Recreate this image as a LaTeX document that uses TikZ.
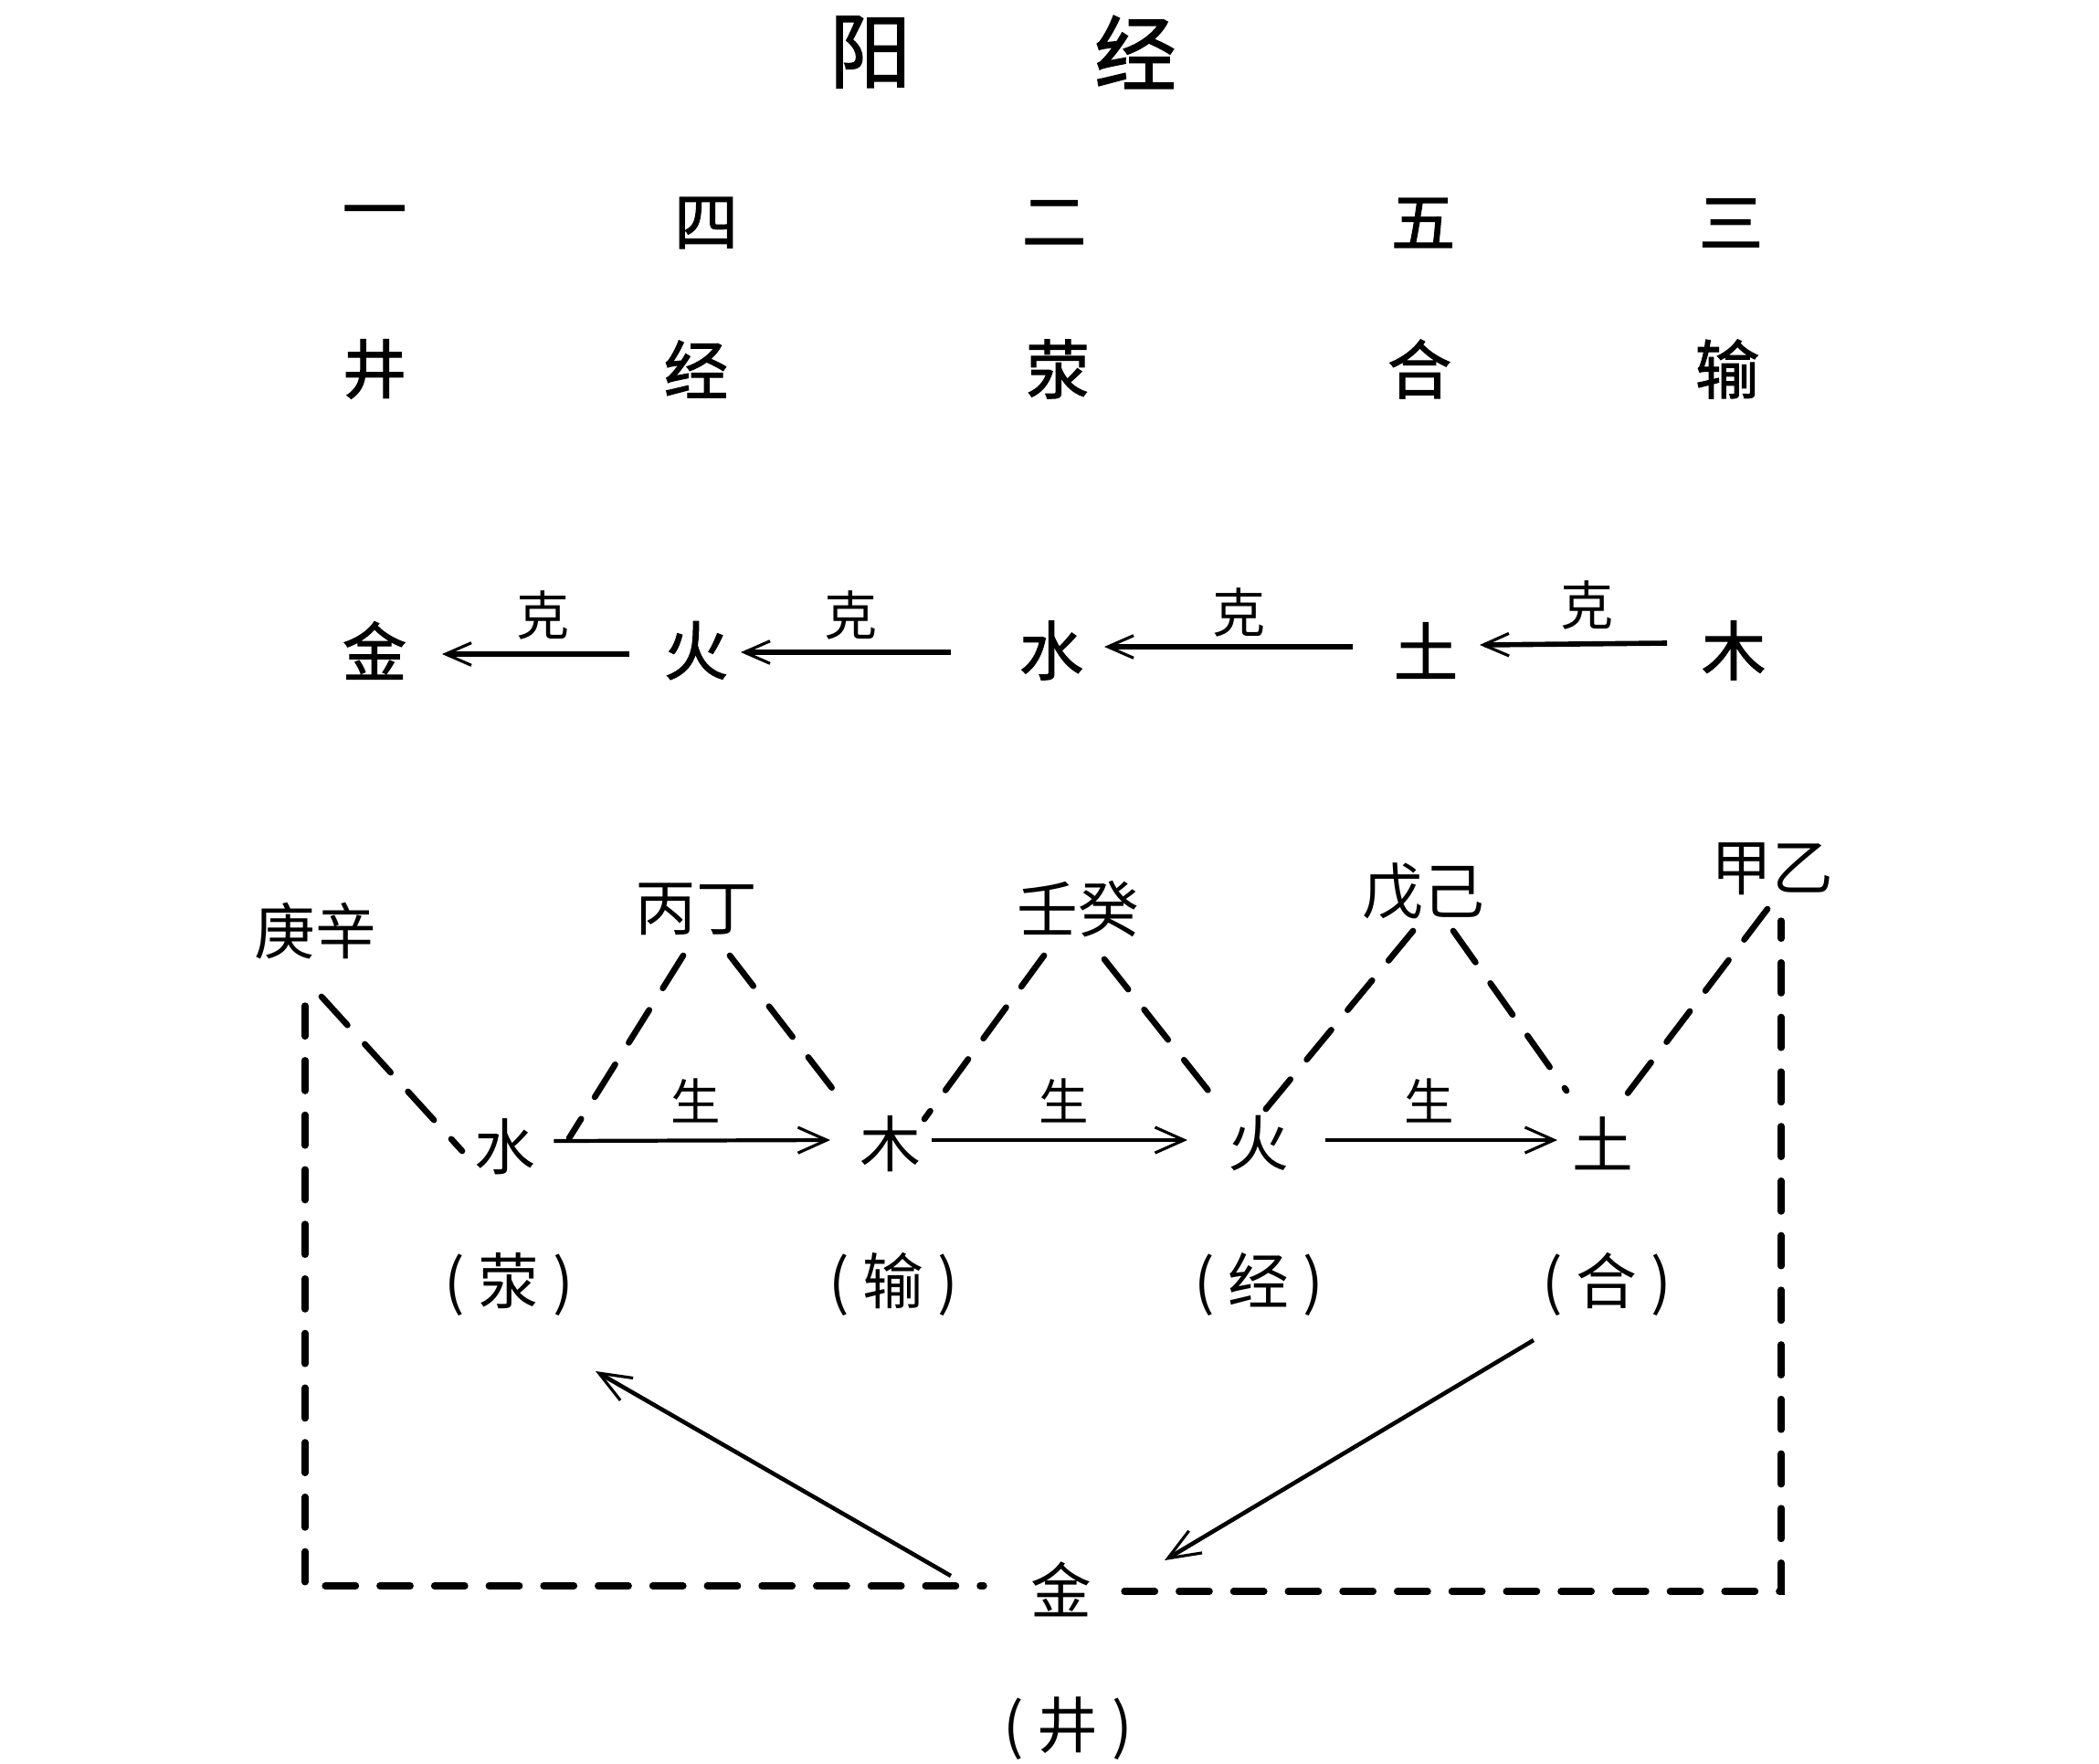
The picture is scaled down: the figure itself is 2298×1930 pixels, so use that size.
\documentclass[tikz,border=0pt]{standalone}
\usepackage{fontspec}
\setmainfont{Noto Sans CJK SC}
\newfontfamily\cjkb[FakeBold=1.5]{Noto Sans CJK SC}
\usetikzlibrary{arrows.meta}
\newcommand{\pw}[1]{(\hspace{0.22em}#1\hspace{0.22em})}
\begin{document}
\begin{tikzpicture}[x=0.02cm,y=-0.02cm,
  every node/.style={inner sep=0pt,outer sep=0pt},
  titletxt/.style={font=\cjkb\fontsize{51}{51}\selectfont},
  rowtxt/.style={font=\cjkb\fontsize{40}{40}\selectfont},
  ketxt/.style={font=\fontsize{33}{33}\selectfont},
  lowtxt/.style={font=\fontsize{38}{38}\selectfont},
  shengtxt/.style={font=\fontsize{31}{31}\selectfont},
  kearrow/.style={line width=3.2pt,-{Straight Barb[length=16pt,width=14pt,line width=1.8pt]}},
  shengarrow/.style={line width=2.4pt,-{Straight Barb[length=18pt,width=16pt,line width=1.8pt]}},
  longarrow/.style={line width=2.6pt,-{Straight Barb[length=20pt,width=16pt,line width=1.8pt]}},
  dashline/.style={line width=3.8pt,line cap=round,dash pattern=on 24pt off 16pt},
  boxline/.style={line width=4.2pt,line cap=round,dash pattern=on 19pt off 15pt}]
\useasboundingbox (0,0) rectangle (2298,1930);
% title
\node[titletxt] (t1) at (953,57) {阳};
\node[titletxt] (t2) at (1243,57) {经};
% numerals
\node[rowtxt] (n1) at (410,240) {一};
\node[rowtxt] (n4) at (773,244) {四};
\node[rowtxt] (n2) at (1154,244) {二};
\node[rowtxt] (n5) at (1558,244) {五};
\node[rowtxt] (n3) at (1895,244) {三};
% points
\node[rowtxt] (p1) at (410,404) {井};
\node[rowtxt] (p2) at (762,404) {经};
\node[rowtxt] (p3) at (1158,404) {荥};
\node[rowtxt] (p4) at (1554,404) {合};
\node[rowtxt] (p5) at (1891,404) {输};
% ke row
\node[rowtxt] (kjin) at (410,712) {金};
\node[rowtxt] (khuo) at (762,712) {火};
\node[rowtxt] (kshui) at (1151,712) {水};
\node[rowtxt] (ktu) at (1561,712) {土};
\node[rowtxt] (kmu) at (1898,712) {木};
\node[ketxt] (ke1) at (594,673) {克};
\node[ketxt] (ke2) at (931,673) {克};
\node[ketxt] (ke3) at (1356,670) {克};
\node[ketxt] (ke4) at (1737,662) {克};
\coordinate (a1s) at (689,716); \coordinate (a1e) at (484,716);
\coordinate (a2s) at (1041,714); \coordinate (a2e) at (811,714);
\coordinate (a3s) at (1481,708); \coordinate (a3e) at (1209,708);
\coordinate (a4s) at (1825,704); \coordinate (a4e) at (1620,706);
\draw[kearrow] (a1s) -- (a1e);
\draw[kearrow] (a2s) -- (a2e);
\draw[kearrow] (a3s) -- (a3e);
\draw[kearrow] (a4s) -- (a4e);
% lower section
\node[lowtxt] (gx) at (345,1019) {庚辛};
\node[lowtxt] (bd) at (762,995) {丙丁};
\node[lowtxt] (rg) at (1180,995) {壬癸};
\node[lowtxt] (wj) at (1558,976) {戊己};
\node[lowtxt] (jy) at (1940,951) {甲乙};
\node[lowtxt] (shui) at (553,1255) {水};
\node[lowtxt] (mu) at (975,1252) {木};
\node[lowtxt] (huo) at (1378,1252) {火};
\node[lowtxt] (tu) at (1755,1252) {土};
\node[shengtxt] (s1) at (762,1205) {生};
\node[shengtxt] (s2) at (1165,1205) {生};
\node[shengtxt] (s3) at (1565,1205) {生};
\draw[shengarrow] (shui.east) ++(20,-6) coordinate (sa1) -- (909,1248) coordinate (sa1e);
\draw[shengarrow] (mu.east) ++(12,-4) coordinate (sa2) -- (1300,1248) coordinate (sa2e);
\draw[shengarrow] (huo.east) ++(40,-4) coordinate (sa3) -- (1705,1248) coordinate (sa3e);
\node[lowtxt] (xing) at (557,1406) {\pw{荥}};
\node[lowtxt] (shu) at (978,1406) {\pw{输}};
\node[lowtxt] (jing) at (1378,1406) {\pw{经}};
\node[lowtxt] (he) at (1759,1406) {\pw{合}};
\node[lowtxt] (jin) at (1162,1740) {金};
\node[lowtxt] (jing2) at (1169,1892) {\pw{井}};
% dashed diagonals
\coordinate (d1a) at (352,1091); \coordinate (d1b) at (506,1260);
\coordinate (d2a) at (748,1046); \coordinate (d2b) at (623,1246);
\coordinate (d3a) at (799,1046); \coordinate (d3b) at (924,1208);
\coordinate (d4a) at (1143,1046); \coordinate (d4b) at (1012,1225);
\coordinate (d5a) at (1209,1050); \coordinate (d5b) at (1334,1208);
\coordinate (d6a) at (1547,1019); \coordinate (d6b) at (1371,1232);
\coordinate (d7a) at (1591,1019); \coordinate (d7b) at (1715,1194);
\coordinate (d8a) at (1935,995); \coordinate (d8b) at (1781,1198);
\draw[dashline] (d1a) -- (d1b);
\draw[dashline] (d2a) -- (d2b);
\draw[dashline] (d3a) -- (d3b);
\draw[dashline] (d4a) -- (d4b);
\draw[dashline] (d5a) -- (d5b);
\draw[dashline] (d6a) -- (d6b);
\draw[dashline] (d7a) -- (d7b);
\draw[dashline] (d8a) -- (d8b);
% box
\coordinate (bl) at (334,1101);
\coordinate (blc) at (334,1736);
\coordinate (bm1) at (1077,1736);
\coordinate (bm2) at (1231,1742);
\coordinate (brc) at (1950,1742);
\coordinate (br) at (1950,1008);
\draw[boxline] (bl) -- (blc) -- (bm1);
\draw[boxline] (bm2) -- (brc) -- (br);
% long arrows
\coordinate (la1s) at (1041,1725); \coordinate (la1e) at (652,1501);
\coordinate (la2s) at (1679,1467); \coordinate (la2e) at (1275,1708);
\draw[longarrow] (la1s) -- (la1e);
\draw[longarrow] (la2s) -- (la2e);
\end{tikzpicture}
\end{document}
